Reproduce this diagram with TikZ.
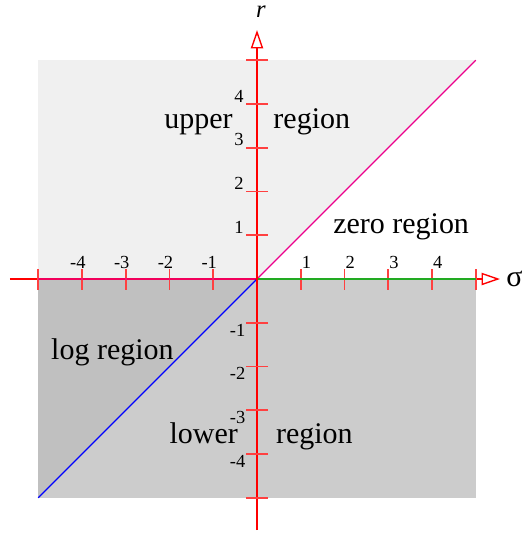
\documentclass[tikz,border=0pt]{standalone}
\usepackage{fontspec}
\setmainfont{Liberation Serif}
\usetikzlibrary{arrows.meta}
\definecolor{upperfill}{HTML}{F0F0F0}
\definecolor{lowerfill}{HTML}{CCCCCC}
\definecolor{logfill}{HTML}{C0C0C0}
\definecolor{zeroline}{HTML}{22AA22}
\begin{document}
\begin{tikzpicture}[>={Triangle[open,length=12pt,width=8pt]},
	axis/.style={red, line width=0.9pt},
	tickmark/.style={red!75, line width=1pt},
	regionlabel/.style={font=\fontsize{19.5}{20}\selectfont, inner sep=0pt},
	ticklabel/.style={font=\fontsize{12}{12}\selectfont, inner sep=0pt}]
	\useasboundingbox (-5.874,-5.851) rectangle (6.103,6.377);
	% 1. 定义正方形区域的顶点和坐标轴端点
	\coordinate (O) at (0,0);
	\coordinate (W) at (-5,0);
	\coordinate (E) at (5,0);
	\coordinate (NW) at (-5,5);
	\coordinate (NE) at (5,5);
	\coordinate (SW) at (-5,-5);
	\coordinate (SE) at (5,-5);
	\coordinate (xstart) at (-5.646,0);
	\coordinate (xend) at (5.554,0);
	\coordinate (ystart) at (0,-5.737);
	\coordinate (yend) at (0,5.691);
	
	% 2. 填充各区域
	\fill[upperfill] (W) -- (NW) -- (NE) -- (O) -- cycle;
	\fill[lowerfill] (O) -- (E) -- (SE) -- (SW) -- cycle;
	\fill[logfill] (W) -- (O) -- (SW) -- cycle;
	
	% 3. 坐标轴与刻度
	\draw[axis,->] (xstart) -- (xend);
	\foreach \i in {-5,-4,-3,-2,-1,1,2,3,4,5}
		\draw[tickmark] (\i,-0.25) -- (\i,0.23);
	\draw[magenta, line width=0.7pt] (W) -- (O) -- (NE);
	\draw[blue, line width=0.7pt] (O) -- (SW);
	\draw[zeroline, line width=0.8pt] (O) -- (E);
	\draw[axis,->] (ystart) -- (yend);
	\foreach \i in {-5,-4,-3,-2,-1,1,2,3,4,5}
		\draw[tickmark] (-0.25,\i) -- (0.25,\i);
	
	% 4. 刻度数字
	\foreach \i in {1,2,3,4} {
		\node[ticklabel, anchor=base west] (xp\i) at (\i+0.02,0.25) {\i};
		\node[ticklabel, anchor=base east] (xn\i) at (-\i+0.09,0.25) {-\i};
		\node[ticklabel, anchor=base east] (yp\i) at (-0.3,\i+0.04) {\i};
		\node[ticklabel, anchor=north east] (yn\i) at (-0.26,-\i-0.02) {-\i};
	}
	
	% 5. 轴名与区域名称
	\node[regionlabel, anchor=west, xshift=4pt] (sigma) at (xend) {σ};
	\node[regionlabel, font=\fontsize{16}{16}\selectfont, anchor=base] (r) at (0.09,5.98) {\textit{r}};
	\node[regionlabel, anchor=base east] (upperA) at (-0.55,3.43) {upper};
	\node[regionlabel, anchor=base west] (upperB) at (0.37,3.43) {region};
	\node[regionlabel, anchor=base west] (zero) at (1.737,1.03) {zero region};
	\node[regionlabel, anchor=base west] (log) at (-4.71,-1.83) {log region};
	\node[regionlabel, anchor=base east] (lowerA) at (-0.43,-3.75) {lower};
	\node[regionlabel, anchor=base west] (lowerB) at (0.43,-3.75) {region};
\end{tikzpicture}
\end{document}
